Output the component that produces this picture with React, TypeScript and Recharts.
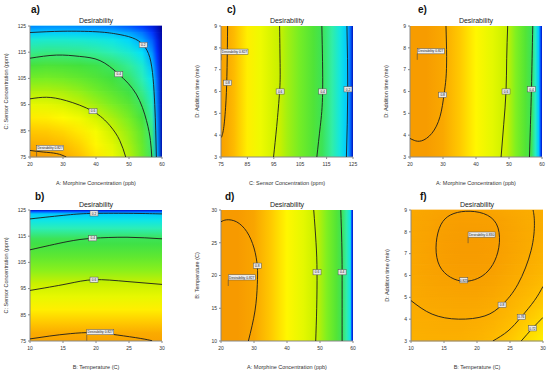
import React from 'react';
import { ScatterChart, Scatter, XAxis, YAxis, ReferenceArea } from 'recharts';

type Pt = { x: number; y: number };
type Tag = { x: number; y: number; t: string };

// ---- panel a: A morphine (ppb) vs C sensor (ppm) ----
const aX = [20, 25, 30, 35, 40, 45, 50, 54, 57, 58.5, 60];
const aRowsY = [75, 80, 85, 90, 95, 100, 105, 110, 115, 120, 122.5, 125];
const aValues = [
  [0.835, 0.83, 0.805, 0.76, 0.71, 0.655, 0.58, 0.49, 0.39, 0.18, 0.02],
  [0.79, 0.785, 0.765, 0.735, 0.69, 0.635, 0.56, 0.48, 0.37, 0.17, 0.02],
  [0.75, 0.745, 0.73, 0.705, 0.665, 0.605, 0.54, 0.465, 0.36, 0.16, 0.02],
  [0.705, 0.7, 0.685, 0.66, 0.615, 0.565, 0.505, 0.43, 0.33, 0.15, 0.02],
  [0.645, 0.64, 0.625, 0.595, 0.555, 0.51, 0.46, 0.39, 0.3, 0.14, 0.02],
  [0.575, 0.575, 0.565, 0.54, 0.5, 0.46, 0.415, 0.35, 0.265, 0.13, 0.02],
  [0.5, 0.505, 0.495, 0.475, 0.45, 0.42, 0.38, 0.31, 0.23, 0.12, 0.02],
  [0.43, 0.44, 0.435, 0.425, 0.41, 0.385, 0.34, 0.28, 0.19, 0.1, 0.02],
  [0.35, 0.36, 0.355, 0.35, 0.335, 0.31, 0.275, 0.225, 0.15, 0.08, 0.02],
  [0.27, 0.275, 0.275, 0.27, 0.26, 0.245, 0.21, 0.165, 0.11, 0.06, 0.015],
  [0.2, 0.205, 0.205, 0.203, 0.2, 0.19, 0.165, 0.13, 0.085, 0.045, 0.01],
  [0.14, 0.145, 0.145, 0.14, 0.135, 0.125, 0.105, 0.08, 0.05, 0.03, 0],
];
const aLine02: Pt[] = [
  { x: 20, y: 122.5 }, { x: 30, y: 123 }, { x: 40, y: 122.8 }, { x: 46, y: 122 }, { x: 51, y: 120.5 },
  { x: 54.3, y: 117.8 }, { x: 56.3, y: 113 }, { x: 57.3, y: 105 }, { x: 57.8, y: 95 }, { x: 58.1, y: 85 }, { x: 58.3, y: 75 },
];
const aLine04: Pt[] = [
  { x: 20, y: 112.7 }, { x: 28, y: 113.9 }, { x: 35, y: 113.4 }, { x: 41.2, y: 111.8 }, { x: 46.9, y: 106.6 },
  { x: 52.2, y: 99 }, { x: 55.3, y: 88.9 }, { x: 56.5, y: 81.3 }, { x: 56.9, y: 75 },
];
const aLine06: Pt[] = [
  { x: 20, y: 97.2 }, { x: 25, y: 97.8 }, { x: 31, y: 96.5 }, { x: 39, y: 92.5 }, { x: 44.2, y: 87 },
  { x: 47.2, y: 81.3 }, { x: 49, y: 75 },
];
const aLine08: Pt[] = [{ x: 20, y: 77.5 }, { x: 24, y: 76.9 }, { x: 28.1, y: 76.3 }, { x: 31, y: 75 }];
const aTags: Tag[] = [
  { x: 54.3, y: 117.8, t: '0.2' }, { x: 46.9, y: 106.6, t: '0.4' }, { x: 39.1, y: 92.5, t: '0.6' },
];
const aFlag: Tag = { x: 22, y: 75.2, t: 'Desirability 0.827' };

// ---- panel b: B temperature (C) vs C sensor (ppm) ----
const bY = [75, 78, 82, 87, 92, 97, 102, 107, 112, 114, 118, 121, 123.5, 124.5, 125];
const bValues = [0.815, 0.8, 0.75, 0.7, 0.645, 0.6, 0.53, 0.47, 0.415, 0.4, 0.31, 0.25, 0.2, 0.1, 0.03];
const bLine02: Pt[] = [{ x: 10, y: 121.6 }, { x: 15.6, y: 123.1 }, { x: 19.7, y: 123.7 }, { x: 25.7, y: 123.7 }, { x: 30, y: 123.5 }];
const bLine04: Pt[] = [{ x: 10, y: 109.8 }, { x: 15.6, y: 112.9 }, { x: 19.5, y: 114.2 }, { x: 24.7, y: 114.6 }, { x: 30, y: 114 }];
const bLine06: Pt[] = [{ x: 10, y: 94.3 }, { x: 15.6, y: 96.8 }, { x: 19.7, y: 98.4 }, { x: 24.7, y: 97.7 }, { x: 30, y: 96.6 }];
const bLine08: Pt[] = [
  { x: 10, y: 75.8 }, { x: 13, y: 76.9 }, { x: 16.1, y: 77.8 }, { x: 19.6, y: 78.2 }, { x: 23.2, y: 77.3 },
  { x: 26.7, y: 76 }, { x: 28.5, y: 75.1 },
];
const bTags: Tag[] = [{ x: 19.7, y: 123.7, t: '0.2' }, { x: 19.5, y: 114.2, t: '0.4' }, { x: 19.7, y: 98.4, t: '0.6' }];
const bFlag: Tag = { x: 18.6, y: 75.1, t: 'Desirability 0.827' };

// ---- panel c: C sensor (ppm) vs D addition time (min) ----
const cX = [75, 77.5, 80, 85, 90, 95, 97.3, 100, 105, 110, 113.3, 117, 120, 122.7, 124, 125];
const cValues = [0.82, 0.8, 0.77, 0.7, 0.655, 0.615, 0.6, 0.56, 0.5, 0.445, 0.4, 0.33, 0.26, 0.2, 0.12, 0.03];
const cLine08: Pt[] = [{ x: 77.5, y: 9 }, { x: 77.3, y: 7.1 }, { x: 76.9, y: 5.6 }, { x: 76.1, y: 4.4 }, { x: 75.2, y: 3.9 }];
const cLine06: Pt[] = [{ x: 97.2, y: 9 }, { x: 97.4, y: 7.1 }, { x: 97.2, y: 6 }, { x: 96.1, y: 4.4 }, { x: 94.9, y: 3 }];
const cLine04: Pt[] = [{ x: 113.2, y: 9 }, { x: 113.5, y: 6 }, { x: 112.6, y: 4.4 }, { x: 111.3, y: 3 }];
const cLine02: Pt[] = [{ x: 122.7, y: 9 }, { x: 123, y: 6 }, { x: 122.5, y: 3 }];
const cTags: Tag[] = [
  { x: 77.5, y: 6.4, t: '0.8' }, { x: 97.4, y: 6, t: '0.6' }, { x: 113.5, y: 6, t: '0.4' }, { x: 123.1, y: 6.1, t: '0.2' },
];
const cFlag: Tag = { x: 75, y: 7.43, t: 'Desirability 0.827' };

// ---- panel d: A morphine (ppb) vs B temperature (C) ----
const dX = [20, 25, 30, 35, 40, 45, 48.8, 52, 55, 56.6, 58, 59.2, 59.6, 60];
const dValues = [0.835, 0.835, 0.81, 0.75, 0.69, 0.64, 0.6, 0.52, 0.45, 0.4, 0.33, 0.25, 0.1, 0.03];
const dLine08: Pt[] = [
  { x: 20, y: 28.2 }, { x: 21.7, y: 28.5 }, { x: 24.7, y: 28.2 }, { x: 27.8, y: 26.7 }, { x: 30, y: 24.2 },
  { x: 31, y: 21.4 }, { x: 31, y: 18.6 }, { x: 30.3, y: 14.6 }, { x: 28.3, y: 10 },
];
const dLine06: Pt[] = [{ x: 48.1, y: 30 }, { x: 48.8, y: 25 }, { x: 49.1, y: 20.5 }, { x: 49, y: 15 }, { x: 48.7, y: 10 }];
const dLine04: Pt[] = [{ x: 56.3, y: 30 }, { x: 56.6, y: 25 }, { x: 56.7, y: 20.5 }, { x: 56.7, y: 15 }, { x: 56.7, y: 10 }];
const dTags: Tag[] = [{ x: 31, y: 21.5, t: '0.8' }, { x: 49.1, y: 20.5, t: '0.6' }, { x: 56.7, y: 20.5, t: '0.4' }];
const dFlag: Tag = { x: 22.2, y: 18.4, t: 'Desirability 0.827' };

// ---- panel e: A morphine (ppb) vs D addition time (min) ----
const eX = [20, 25, 30, 35, 40, 45, 49.3, 52, 55, 56.8, 58, 59, 59.6, 60];
const eValues = [0.83, 0.83, 0.805, 0.75, 0.69, 0.64, 0.6, 0.52, 0.45, 0.4, 0.3, 0.2, 0.1, 0.03];
const eLine08: Pt[] = [
  { x: 30.9, y: 9 }, { x: 31.1, y: 7.6 }, { x: 30.9, y: 6.6 }, { x: 30.3, y: 5.85 }, { x: 29.1, y: 4.85 },
  { x: 26.6, y: 4.08 }, { x: 23.5, y: 3.74 }, { x: 21.3, y: 3.76 }, { x: 20, y: 3.85 },
];
const eLine06: Pt[] = [{ x: 49.6, y: 9 }, { x: 49.3, y: 7.5 }, { x: 49.1, y: 6 }, { x: 48.4, y: 4.5 }, { x: 47.6, y: 3 }];
const eLine04: Pt[] = [{ x: 57.2, y: 9 }, { x: 57, y: 7.5 }, { x: 56.8, y: 6.1 }, { x: 56.5, y: 4.5 }, { x: 56.2, y: 3 }];
const eTags: Tag[] = [{ x: 29.9, y: 5.85, t: '0.8' }, { x: 49.1, y: 6, t: '0.6' }, { x: 56.8, y: 6.1, t: '0.4' }];
const eFlag: Tag = { x: 22.2, y: 7.45, t: 'Desirability 0.827' };

// ---- panel f: B temperature (C) vs D addition time (min) ----
const fX = [10, 12.5, 15, 17.5, 20, 22.5, 25, 27.5, 30];
const fRowsY = [3, 3.5, 4, 4.5, 5, 5.5, 6, 6.5, 7, 7.5, 8, 8.5, 9];
const fValues = [
  [0.789, 0.79, 0.79, 0.789, 0.783, 0.77, 0.748, 0.724, 0.698],
  [0.792, 0.794, 0.795, 0.795, 0.79, 0.779, 0.76, 0.737, 0.713],
  [0.795, 0.798, 0.799, 0.8, 0.797, 0.788, 0.771, 0.75, 0.728],
  [0.798, 0.802, 0.804, 0.805, 0.803, 0.796, 0.781, 0.762, 0.742],
  [0.801, 0.806, 0.809, 0.811, 0.81, 0.803, 0.79, 0.773, 0.755],
  [0.803, 0.809, 0.814, 0.817, 0.816, 0.81, 0.798, 0.782, 0.765],
  [0.805, 0.812, 0.819, 0.823, 0.822, 0.816, 0.804, 0.79, 0.775],
  [0.806, 0.814, 0.822, 0.828, 0.828, 0.822, 0.809, 0.795, 0.782],
  [0.807, 0.815, 0.824, 0.83, 0.83, 0.824, 0.812, 0.799, 0.787],
  [0.808, 0.815, 0.824, 0.83, 0.83, 0.825, 0.813, 0.801, 0.79],
  [0.807, 0.814, 0.823, 0.828, 0.828, 0.823, 0.812, 0.801, 0.793],
  [0.806, 0.812, 0.82, 0.824, 0.823, 0.82, 0.81, 0.8, 0.795],
  [0.805, 0.81, 0.815, 0.818, 0.815, 0.81, 0.805, 0.8, 0.795],
];
// closed contour: control points of a closed B-spline
const fLineIn: Pt[] = [
  { x: 17.65, y: 5.68 }, { x: 19.65, y: 5.78 }, { x: 21.33, y: 6.04 }, { x: 22.8, y: 6.62 }, { x: 23.59, y: 7.51 },
  { x: 23.22, y: 8.45 }, { x: 21.12, y: 8.9 }, { x: 18.18, y: 8.98 }, { x: 15.87, y: 8.82 }, { x: 14.4, y: 8.4 },
  { x: 13.67, y: 7.51 }, { x: 13.88, y: 6.56 }, { x: 15.35, y: 5.97 },
];
const fLine080: Pt[] = [
  { x: 10, y: 4.85 }, { x: 13.2, y: 4.23 }, { x: 17.2, y: 4 }, { x: 21.2, y: 4.15 }, { x: 23.8, y: 4.66 },
  { x: 26.2, y: 5.6 }, { x: 28.2, y: 7.15 }, { x: 28.7, y: 8.4 }, { x: 28.5, y: 9 },
];
const fLine076: Pt[] = [{ x: 22.4, y: 3 }, { x: 24.7, y: 3.46 }, { x: 26.7, y: 4.1 }, { x: 28.7, y: 4.85 }, { x: 30, y: 5.5 }];
const fLine072: Pt[] = [{ x: 26.7, y: 3 }, { x: 28.4, y: 3.58 }, { x: 30, y: 4.08 }];
const fTags: Tag[] = [
  { x: 18, y: 5.78, t: '0.825' }, { x: 23.8, y: 4.66, t: '0.8' }, { x: 26.7, y: 4.1, t: '0.76' }, { x: 28.4, y: 3.58, t: '0.72' },
];
const fFlag: Tag = { x: 18.65, y: 7.48, t: 'Desirability 0.830' };

// colour ramp (blue -> cyan -> green -> yellow -> orange)
const rampStops: [number, string][] = [
  [0, '#000096'], [0.08, '#0030ff'], [0.15, '#0090ff'], [0.22, '#00e0ff'], [0.32, '#30f0b0'],
  [0.42, '#40e040'], [0.52, '#80f020'], [0.6, '#c8f000'], [0.68, '#ffff00'], [0.76, '#ffc000'],
  [0.82, '#f8a000'], [0.9, '#f08000'],
];

function rgb(h: string) {
  return [1, 3, 5].map((i) => parseInt(h.slice(i, i + 2), 16));
}

function ramp(v: number) {
  if (v <= rampStops[0][0]) return rampStops[0][1];
  for (let i = 1; i < rampStops.length; i++) {
    if (v <= rampStops[i][0]) {
      const [v0, c0] = rampStops[i - 1];
      const [v1, c1] = rampStops[i];
      const t = (v - v0) / (v1 - v0);
      const a = rgb(c0), b = rgb(c1);
      return `rgb(${a.map((c, k) => Math.round(c + (b[k] - c) * t)).join(',')})`;
    }
  }
  return rampStops[rampStops.length - 1][1];
}

const hGrad = (id: string, xs: number[], vals: number[]) => {
  const x0 = xs[0], x1 = xs[xs.length - 1];
  return (
    <linearGradient key={id} id={id} x1="0" y1="0" x2="1" y2="0">
      {xs.map((x, i) => <stop key={i} offset={(x - x0) / (x1 - x0)} stopColor={ramp(vals[i])} />)}
    </linearGradient>
  );
};

const vGrad = (id: string, ys: number[], vals: number[]) => {
  const y0 = ys[0], y1 = ys[ys.length - 1];
  return (
    <linearGradient key={id} id={id} x1="0" y1="1" x2="0" y2="0">
      {ys.map((y, i) => <stop key={i} offset={(y - y0) / (y1 - y0)} stopColor={ramp(vals[i])} />)}
    </linearGradient>
  );
};

function Defs() {
  return (
    <svg width={0} height={0} style={{ position: 'absolute' }}>
      <defs>
        <linearGradient id="fadeUp" x1="0" y1="1" x2="0" y2="0">
          <stop offset="0" stopColor="#000" />
          <stop offset="1" stopColor="#fff" />
        </linearGradient>
        <mask id="blendUp" maskContentUnits="objectBoundingBox">
          <rect x={0} y={0} width={1} height={1} fill="url(#fadeUp)" />
        </mask>
        {aValues.map((row, i) => hGrad(`ga${i}`, aX, row))}
        {fValues.map((row, i) => hGrad(`gf${i}`, fX, row))}
        {vGrad('gb', bY, bValues)}
        {hGrad('gc', cX, cValues)}
        {hGrad('gd', dX, dValues)}
        {hGrad('ge', eX, eValues)}
      </defs>
    </svg>
  );
}

// one band between two sampled rows, lower row blended into upper row
const bandShape = (lo: string, hi: string) => (p: any) => (
  <g>
    <rect x={p.x} y={p.y - 0.3} width={p.width} height={p.height + 0.6} fill={`url(#${lo})`} />
    <rect x={p.x} y={p.y - 0.3} width={p.width} height={p.height + 0.6} fill={`url(#${hi})`} mask="url(#blendUp)" />
  </g>
);

const bands = (prefix: string, xs: number[], rowsY: number[]) =>
  rowsY.slice(0, -1).map((y, i) => (
    <ReferenceArea
      key={prefix + i}
      x1={xs[0]}
      x2={xs[xs.length - 1]}
      y1={y}
      y2={rowsY[i + 1]}
      shape={bandShape(`${prefix}${i}`, `${prefix}${i + 1}`)}
    />
  ));

const flat = (id: string, x: [number, number], y: [number, number]) => (
  <ReferenceArea key={id} x1={x[0]} x2={x[1]} y1={y[0]} y2={y[1]} fill={`url(#${id})`} fillOpacity={1} stroke="none" />
);

const tagShape = (p: any) => (
  <g>
    <rect x={p.cx - 4} y={p.cy - 2.6} width={8} height={5.2} fill="#e8e8e8" stroke="#555" strokeWidth={0.5} />
    <text x={p.cx} y={p.cy + 1.2} fontSize={3.2} textAnchor="middle" fill="#222">{p.payload.t}</text>
  </g>
);

const flagShape = (p: any) => (
  <g>
    <line x1={p.cx} y1={p.cy} x2={p.cx} y2={p.cy - 6} stroke="#444" strokeWidth={0.6} />
    <rect x={p.cx} y={p.cy - 11.2} width={27} height={5.2} fill="#eeeeee" stroke="#555" strokeWidth={0.5} />
    <text x={p.cx + 13.5} y={p.cy - 7.4} fontSize={3.3} textAnchor="middle" fill="#222">{p.payload.t}</text>
  </g>
);

const noDot = () => <g />;

interface PanelProps {
  plotLeft: number;
  plotTop: number;
  letter: string;
  letterPos: [number, number];
  xTitle: string;
  yTitle: string;
  xDomain: [number, number];
  yDomain: [number, number];
  xTicks: number[];
  yTicks: number[];
  surface: React.ReactNode;
  lines: Pt[][];
  loop?: Pt[];
  tags: Tag[];
  flag: Tag;
}

const tickStyle = { fontSize: 5, fill: '#333' };
const titleStyle = { fontSize: 5.5, fill: '#333' };
const contourStroke = { stroke: '#1c1c1c', strokeWidth: 0.9 };

function Panel(props: PanelProps) {
  const { plotLeft, plotTop, letter, letterPos, xTitle, yTitle, xDomain, yDomain, xTicks, yTicks, surface, lines, loop, tags, flag } = props;
  return (
    <>
      <div style={{ position: 'absolute', left: letterPos[0], top: letterPos[1], fontSize: 10, lineHeight: '10px', fontWeight: 'bold', color: '#111' }}>
        {letter}
      </div>
      <div style={{ position: 'absolute', left: plotLeft, top: plotTop - 9.5, width: 132, textAlign: 'center', fontSize: 7, lineHeight: '7px', color: '#222' }}>
        Desirability
      </div>
      <div style={{ position: 'absolute', left: plotLeft - 30, top: plotTop - 26 }}>
        <ScatterChart width={170} height={190} margin={{ top: 26, right: 8, bottom: 3, left: 4 }}>
          <XAxis
            type="number"
            dataKey="x"
            domain={xDomain}
            ticks={xTicks}
            interval={0}
            allowDataOverflow
            tick={tickStyle}
            tickSize={2}
            tickMargin={3}
            axisLine={{ stroke: '#888' }}
            tickLine={{ stroke: '#888' }}
            height={30}
            label={{ value: xTitle, position: 'insideBottom', offset: 2, ...titleStyle }}
          />
          <YAxis
            type="number"
            dataKey="y"
            domain={yDomain}
            ticks={yTicks}
            interval={0}
            allowDataOverflow
            tick={tickStyle}
            tickSize={2}
            axisLine={{ stroke: '#888' }}
            tickLine={{ stroke: '#888' }}
            width={26}
            label={{ value: yTitle, angle: -90, position: 'insideLeft', offset: 2, ...titleStyle, style: { textAnchor: 'middle' } }}
          />
          {surface}
          {lines.map((pts, i) => (
            <Scatter key={'line' + i} data={pts} line={contourStroke} lineJointType="natural" shape={noDot} isAnimationActive={false} />
          ))}
          {loop && <Scatter data={loop} line={contourStroke} lineJointType="basisClosed" shape={noDot} isAnimationActive={false} />}
          <Scatter data={tags} shape={tagShape} isAnimationActive={false} />
          <Scatter data={[flag]} shape={flagShape} isAnimationActive={false} />
        </ScatterChart>
      </div>
    </>
  );
}

const morphine = 'A: Morphine Concentration (ppb)';
const sensor = 'C: Sensor Concentration (ppm)';
const temp = 'B: Temperature (C)';
const time = 'D: Addition time (min)';
const ticksA = [20, 30, 40, 50, 60];
const ticksB = [10, 15, 20, 25, 30];
const ticksC = [75, 85, 95, 105, 115, 125];
const ticksD = [3, 4, 5, 6, 7, 8, 9];

export default function App() {
  return (
    <div style={{ position: 'absolute', left: 0, top: 0, width: 550, height: 375, background: '#fff', overflow: 'hidden', fontFamily: '"Liberation Sans", Arial, sans-serif' }}>
      <Defs />
      <Panel
        plotLeft={30} plotTop={26} letter="a)" letterPos={[31, 5]}
        xTitle={morphine} yTitle={sensor} xDomain={[20, 60]} yDomain={[75, 125]} xTicks={ticksA} yTicks={ticksC}
        surface={bands('ga', aX, aRowsY)}
        lines={[aLine02, aLine04, aLine06, aLine08]} tags={aTags} flag={aFlag}
      />
      <Panel
        plotLeft={221} plotTop={26} letter="c)" letterPos={[227, 5]}
        xTitle={sensor} yTitle={time} xDomain={[75, 125]} yDomain={[3, 9]} xTicks={ticksC} yTicks={ticksD}
        surface={flat('gc', [75, 125], [3, 9])}
        lines={[cLine08, cLine06, cLine04, cLine02]} tags={cTags} flag={cFlag}
      />
      <Panel
        plotLeft={410} plotTop={26} letter="e)" letterPos={[418, 5]}
        xTitle={morphine} yTitle={time} xDomain={[20, 60]} yDomain={[3, 9]} xTicks={ticksA} yTicks={ticksD}
        surface={flat('ge', [20, 60], [3, 9])}
        lines={[eLine08, eLine06, eLine04]} tags={eTags} flag={eFlag}
      />
      <Panel
        plotLeft={30} plotTop={210} letter="b)" letterPos={[35, 192]}
        xTitle={temp} yTitle={sensor} xDomain={[10, 30]} yDomain={[75, 125]} xTicks={ticksB} yTicks={ticksC}
        surface={flat('gb', [10, 30], [75, 125])}
        lines={[bLine02, bLine04, bLine06, bLine08]} tags={bTags} flag={bFlag}
      />
      <Panel
        plotLeft={221} plotTop={210} letter="d)" letterPos={[225, 192]}
        xTitle={morphine} yTitle={temp} xDomain={[20, 60]} yDomain={[10, 30]} xTicks={ticksA} yTicks={ticksB}
        surface={flat('gd', [20, 60], [10, 30])}
        lines={[dLine08, dLine06, dLine04]} tags={dTags} flag={dFlag}
      />
      <Panel
        plotLeft={411} plotTop={210} letter="f)" letterPos={[420, 192]}
        xTitle={temp} yTitle={time} xDomain={[10, 30]} yDomain={[3, 9]} xTicks={ticksB} yTicks={ticksD}
        surface={bands('gf', fX, fRowsY)}
        lines={[fLine080, fLine076, fLine072]} loop={fLineIn} tags={fTags} flag={fFlag}
      />
    </div>
  );
}
